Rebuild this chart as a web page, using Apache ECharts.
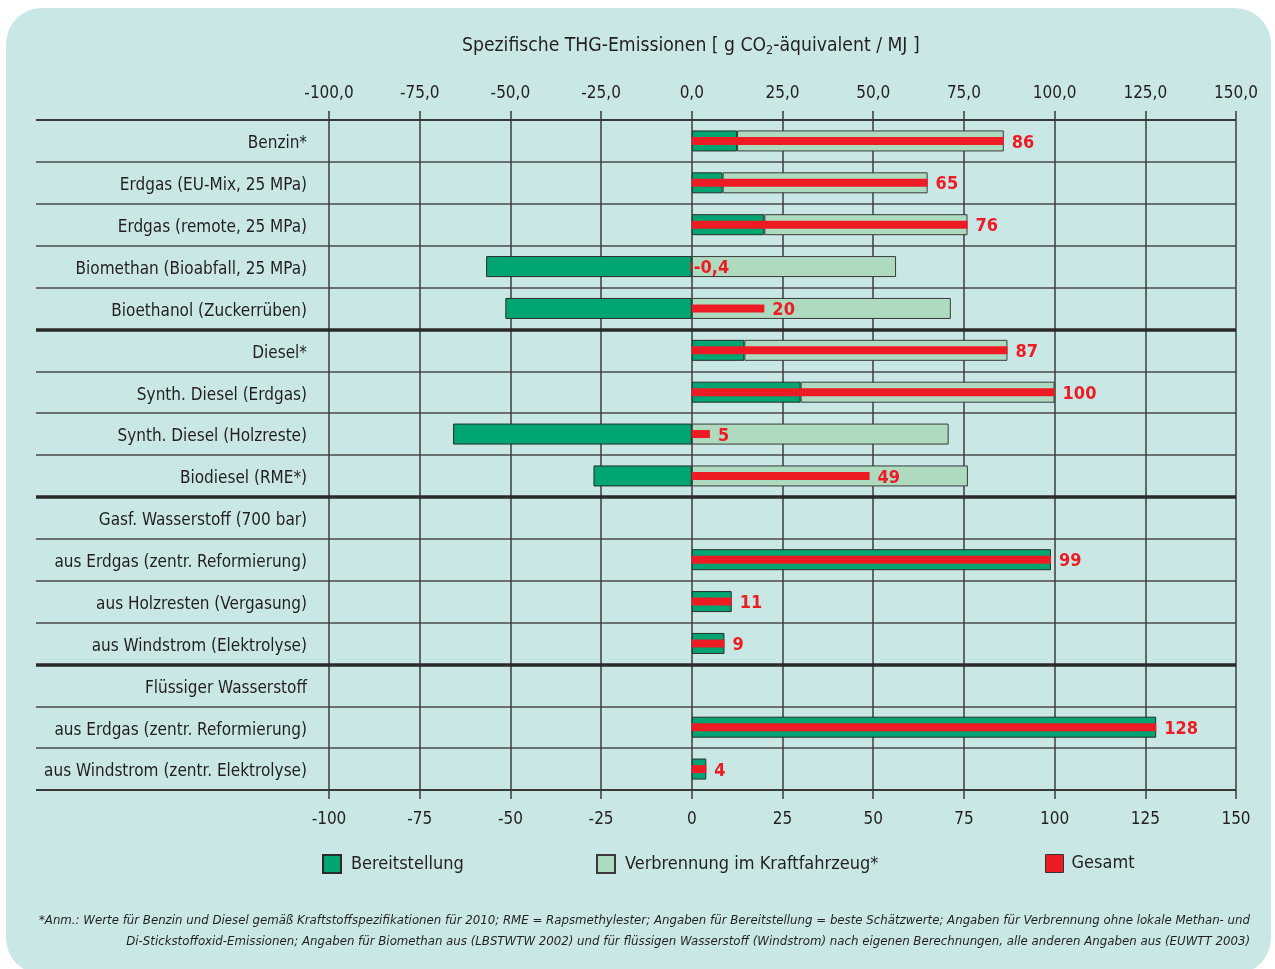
<!DOCTYPE html>
<html>
<head>
<meta charset="utf-8">
<script src="https://cdn.jsdelivr.net/npm/echarts@6/dist/echarts.min.js"></script>
<style>
  html, body { margin: 0; padding: 0; background: #ffffff; }
  #bg { position: absolute; left: 6px; top: 8px; width: 1265px; height: 966px; border-radius: 36px; background: #c9e8e5; }
  #chart { position: absolute; left: 0; top: 0; width: 1275px; height: 969px; }
</style>
</head>
<body>
<div id="bg"></div>
<div id="chart"></div>
<script>
// ---- Data ----
const categories = [
  'Benzin*',
  'Erdgas (EU-Mix, 25 MPa)',
  'Erdgas (remote, 25 MPa)',
  'Biomethan (Bioabfall, 25 MPa)',
  'Bioethanol (Zuckerrüben)',
  'Diesel*',
  'Synth. Diesel (Erdgas)',
  'Synth. Diesel (Holzreste)',
  'Biodiesel (RME*)',
  'Gasf. Wasserstoff (700 bar)',
  'aus Erdgas (zentr. Reformierung)',
  'aus Holzresten (Vergasung)',
  'aus Windstrom (Elektrolyse)',
  'Flüssiger Wasserstoff',
  'aus Erdgas (zentr. Reformierung)',
  'aus Windstrom (zentr. Elektrolyse)'
];
const bereitstellung = [12.5, 8.5, 20, -56.7, -51.4, 14.5, 30, -65.8, -27.1, null, 99, 11, 9, null, 128, 4];
const verbrennung    = [73.5, 56.5, 56, 56.3, 71.4, 72.5, 70, 70.8, 76.1, null, null, null, null, null, null, null];
const gesamt         = [86, 65, 76, -0.4, 20, 87, 100, 5, 49, null, 99, 11, 9, null, 128, 4];
const groupBreaks = [5, 9, 13];
const xTicks = { min: -100, max: 150, interval: 25 };
const seriesNames = ['Bereitstellung', 'Verbrennung im Kraftfahrzeug*', 'Gesamt'];

const FONT = "'Liberation Sans Narrow', 'DejaVu Sans Condensed', 'Arial Narrow', sans-serif";
const TXT = '#231f20';
const GREEN = '#00a572';
const LIGHT = '#aedbc0';
const RED = '#ed1c24';
const LINE = '#3c3c3c';

const chart = echarts.init(document.getElementById('chart'), null, { renderer: 'canvas' });
const fmtComma = v => String(v).replace('.', ',');

const option = {
  backgroundColor: 'transparent',
  animation: false,
  textStyle: { fontFamily: FONT },
  grid: [
    { left: 329, right: 39, top: 120, height: 670, containLabel: false, outerBoundsMode: 'none' },
    { left: 36, right: 39, top: 120, height: 670, containLabel: false, outerBoundsMode: 'none' }
  ],
  xAxis: [
    {
      gridIndex: 0, type: 'value', position: 'top',
      min: xTicks.min, max: xTicks.max, interval: xTicks.interval,
      axisLine: { show: false },
      axisTick: { show: true, length: 9, lineStyle: { color: LINE, width: 1.5 } },
      axisLabel: { margin: 18, fontSize: 17, color: TXT, fontFamily: FONT,
        formatter: v => v.toFixed(1).replace('.', ',') },
      splitLine: { show: false }
    },
    {
      gridIndex: 0, type: 'value', position: 'bottom',
      min: xTicks.min, max: xTicks.max, interval: xTicks.interval,
      axisLine: { show: false },
      axisTick: { show: true, length: 9, lineStyle: { color: LINE, width: 1.5 } },
      axisLabel: { margin: 21, fontSize: 17, color: TXT, fontFamily: FONT,
        formatter: v => String(v) },
      splitLine: { show: true, lineStyle: { color: LINE, width: 1.5 } }
    },
    { gridIndex: 1, type: 'value', min: 0, max: 1, show: false, splitLine: { show: false } }
  ],
  yAxis: [
    {
      gridIndex: 0, type: 'category', inverse: true, data: categories,
      axisLine: { show: false }, axisTick: { show: false },
      axisLabel: { margin: 22, fontSize: 17, color: TXT, fontFamily: FONT,
        formatter: v => '{c|' + v + '}',
        rich: { c: { fontSize: 17, color: TXT, fontFamily: FONT, padding: [6, 0, 0, 0] } } },
      splitLine: { show: false }
    },
    { gridIndex: 0, type: 'category', inverse: true, data: categories, show: false },
    {
      gridIndex: 1, type: 'value', inverse: true, min: 0, max: categories.length, interval: 1,
      axisLine: { show: false }, axisTick: { show: false }, axisLabel: { show: false },
      splitLine: { show: true, lineStyle: { color: '#4a4a4a', width: 1.5 } }
    }
  ],
  legend: [
    { data: [seriesNames[0]], left: 322, top: 854, padding: 0, itemWidth: 18, itemHeight: 18, icon: 'rect',
      textStyle: { fontSize: 18, color: TXT, fontFamily: FONT, padding: [0, 0, 0, 5] }, selectedMode: false },
    { data: [seriesNames[1]], left: 596, top: 854, padding: 0, itemWidth: 18, itemHeight: 18, icon: 'rect',
      textStyle: { fontSize: 18, color: TXT, fontFamily: FONT, padding: [0, 0, 0, 5] }, selectedMode: false },
    { data: [seriesNames[2]], left: 1045, top: 854, padding: 0, itemWidth: 18, itemHeight: 18, icon: 'rect',
      itemStyle: { borderColor: '#333', borderWidth: 1 },
      textStyle: { fontSize: 18, color: TXT, fontFamily: FONT, padding: [0, 0, 0, 3] }, selectedMode: false }
  ],
  graphic: [
    {
      type: 'text', left: 462, top: 37,
      style: {
        text: 'Spezifische THG-Emissionen [ g CO{sub|2}-äquivalent / MJ ]',
        fontSize: 19.2, fontFamily: FONT, fill: TXT,
        rich: { sub: { fontSize: 12.5, fontFamily: FONT, fill: TXT, padding: [9, 0, 0, 0] } }
      }
    },
    {
      type: 'text', right: 25, top: 914,
      style: {
        text: '*Anm.: Werte für Benzin und Diesel gemäß Kraftstoffspezifikationen für 2010; RME = Rapsmethylester; Angaben für Bereitstellung = beste Schätzwerte; Angaben für Verbrennung ohne lokale Methan- und',
        fontSize: 13.1, fontStyle: 'italic', fontFamily: FONT, fill: TXT, textAlign: 'right'
      }
    },
    {
      type: 'text', right: 25, top: 935,
      style: {
        text: 'Di-Stickstoffoxid-Emissionen; Angaben für Biomethan aus (LBSTWTW 2002) und für flüssigen Wasserstoff (Windstrom) nach eigenen Berechnungen, alle anderen Angaben aus (EUWTT 2003)',
        fontSize: 13.1, fontStyle: 'italic', fontFamily: FONT, fill: TXT, textAlign: 'right'
      }
    }
  ],
  series: [
    {
      name: seriesNames[0], type: 'bar', xAxisIndex: 1, yAxisIndex: 0, stack: 'total',
      barWidth: 21, data: bereitstellung,
      itemStyle: { color: GREEN, borderColor: '#2b2b2b', borderWidth: 1 }
    },
    {
      name: seriesNames[1], type: 'bar', xAxisIndex: 1, yAxisIndex: 0, stack: 'total',
      barWidth: 21, data: verbrennung,
      itemStyle: { color: LIGHT, borderColor: '#3a3a3a', borderWidth: 1 }
    },
    {
      name: seriesNames[2], type: 'bar', xAxisIndex: 1, yAxisIndex: 1,
      barWidth: 8, z: 5,
      data: gesamt.map(v => (v !== null && v < 0) ? { value: v, label: { distance: 2 } } : v),
      itemStyle: { color: RED },
      label: {
        show: true, position: 'right', distance: 8, offset: [0, 2], color: RED, fontSize: 18, fontWeight: 'bold',
        fontFamily: FONT, formatter: p => (p.value === null || p.value === undefined) ? '' : fmtComma(p.value)
      }
    },
    {
      type: 'line', xAxisIndex: 2, yAxisIndex: 2, data: [], silent: true,
      markLine: {
        symbol: 'none', silent: true, animation: false,
        label: { show: false },
        lineStyle: { color: '#2a2a2a', width: 3.5, type: 'solid' },
        data: groupBreaks.map(b => ({ yAxis: b })).concat([
          { yAxis: 0, lineStyle: { width: 2, color: '#3a3a3a', type: 'solid' } },
          { yAxis: categories.length, lineStyle: { width: 2, color: '#3a3a3a', type: 'solid' } }
        ])
      }
    }
  ]
};
chart.setOption(option);
</script>
</body>
</html>
